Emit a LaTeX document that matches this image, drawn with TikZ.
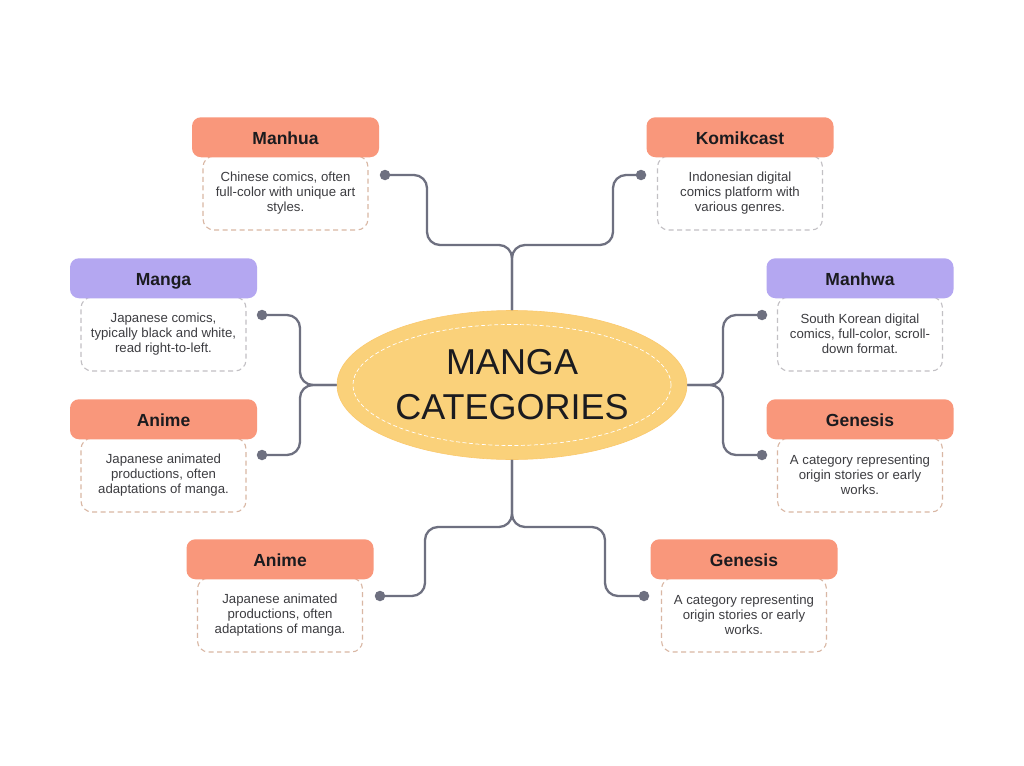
\documentclass[tikz,border=0pt]{standalone}
\usepackage{fontspec}
\setmainfont{Liberation Sans}
\usetikzlibrary{positioning,shapes.geometric}
\definecolor{salmon}{HTML}{F9977B}
\definecolor{lilac}{HTML}{B4A7F1}
\definecolor{sun}{HTML}{FAD17A}
\definecolor{wire}{HTML}{6E7080}
\definecolor{tan}{HTML}{D9B7A4}
\definecolor{ash}{HTML}{C2C0C4}
\definecolor{ink}{HTML}{1B1B1F}
\begin{document}
\begin{tikzpicture}[x=1pt,y=-1pt,
 node distance=5mm,
 hd/.style={rounded corners=9pt,minimum width=187pt,minimum height=40pt,
 font=\fontsize{17.5}{20}\selectfont\bfseries,text=ink,inner sep=0pt,
 text height=14pt,text depth=0pt},
 bd/.style={draw=#1,dash pattern=on 5pt off 3.5pt,line width=1.1pt,fill=white,
 rounded corners=11pt,minimum width=165pt,minimum height=74pt,align=center,
 text=ink!85,font=\fontsize{13.2}{14.8}\selectfont,inner sep=0pt},
 w/.style={draw=wire,line width=2.3pt,rounded corners=13pt},
 dot/.style={circle,fill=wire,minimum size=10.5pt,inner sep=0pt}]
 \useasboundingbox[fill=white] (0,0) rectangle (1024,765);
 % connection points
 \node[dot] (dTL) at (385,175) {};
 \node[dot] (dTR) at (641,175) {};
 \node[dot] (dML) at (262,315) {};
 \node[dot] (dAL) at (262,455) {};
 \node[dot] (dMR) at (762,315) {};
 \node[dot] (dGR) at (762,455) {};
 \node[dot] (dAB) at (380,596) {};
 \node[dot] (dGB) at (644,596) {};
 % hub
 \node[ellipse,fill=sun,draw=sun!90!orange,line width=0.6pt,minimum width=350pt,
 minimum height=149pt] (hub) at (512,385) {};
 \node[ellipse,draw=white,dash pattern=on 4pt off 2.5pt,line width=0.7pt,
 minimum width=318pt,minimum height=121pt] (hubin) at (hub.center) {};
 \node[align=center,font=\fontsize{36}{45}\selectfont,text=ink] (ttl) at (hub.center)
 {MANGA\\CATEGORIES};
 % wires
 \draw[w] (hub.north) |- (427,245) |- (dTL.center);
 \draw[w] (hub.north) |- (613,245) |- (dTR.center);
 \draw[w] (hub.west) -- (300,385) |- (dML.center);
 \draw[w] (hub.west) -- (300,385) |- (dAL.center);
 \draw[w] (hub.east) -- (723,385) |- (dMR.center);
 \draw[w] (hub.east) -- (723,385) |- (dGR.center);
 \draw[w] (hub.south) |- (425,527) |- (dAB.center);
 \draw[w] (hub.south) |- (605,527) |- (dGB.center);
 % boxes
 \node[bd=tan] (b1) at (285.5,193) {Chinese comics, often\\full-color with unique art\\styles.};
 \node[hd,fill=salmon,above=-2pt of b1] (h1) {Manhua};
 \node[bd=ash] (b2) at (740,193) {Indonesian digital\\comics platform with\\various genres.};
 \node[hd,fill=salmon,above=-2pt of b2] (h2) {Komikcast};
 \node[bd=ash] (b3) at (163.5,334) {Japanese comics,\\typically black and white,\\read right-to-left.};
 \node[hd,fill=lilac,above=-2pt of b3] (h3) {Manga};
 \node[bd=tan] (b4) at (163.5,475) {Japanese animated\\productions, often\\adaptations of manga.};
 \node[hd,fill=salmon,above=-2pt of b4] (h4) {Anime};
 \node[bd=ash] (b5) at (860,334) {South Korean digital\\comics, full-color, scroll-\\down format.};
 \node[hd,fill=lilac,above=-2pt of b5] (h5) {Manhwa};
 \node[bd=tan] (b6) at (860,475) {A category representing\\origin stories or early\\works.};
 \node[hd,fill=salmon,above=-2pt of b6] (h6) {Genesis};
 \node[bd=tan] (b7) at (280,615) {Japanese animated\\productions, often\\adaptations of manga.};
 \node[hd,fill=salmon,above=-2pt of b7] (h7) {Anime};
 \node[bd=tan] (b8) at (744,615) {A category representing\\origin stories or early\\works.};
 \node[hd,fill=salmon,above=-2pt of b8] (h8) {Genesis};
\end{tikzpicture}
\end{document}
